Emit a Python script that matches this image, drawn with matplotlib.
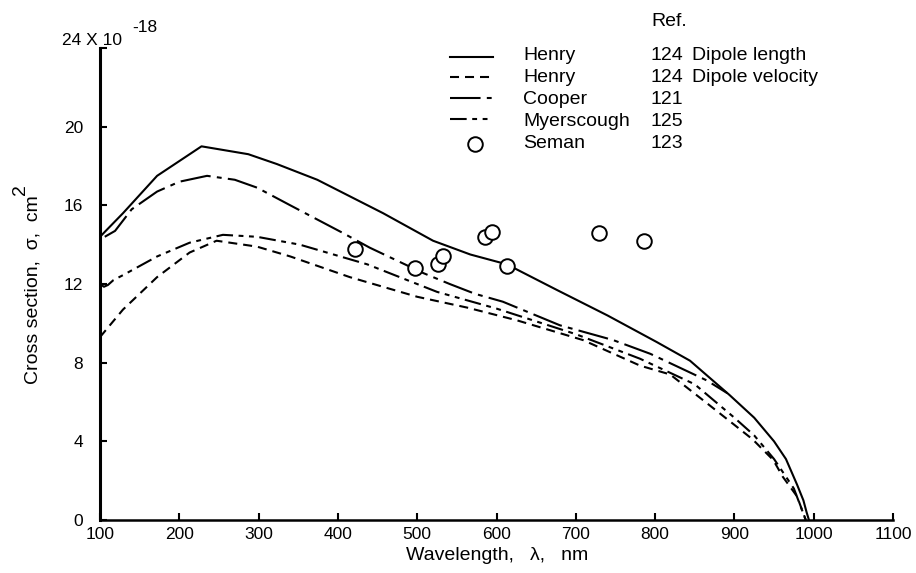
import matplotlib
matplotlib.use("Agg")
import matplotlib.pyplot as plt
from matplotlib.lines import Line2D
from matplotlib import font_manager

# ---- data -------------------------------------------------------------
henry_len_x = [100, 129, 172, 228, 287, 323, 374, 457, 520, 567, 613, 676, 740, 802, 844, 894, 925, 950, 965, 979, 987, 991, 994]
henry_len_y = [14.4, 15.6, 17.5, 19.0, 18.6, 18.1, 17.3, 15.6, 14.2, 13.5, 13.0, 11.7, 10.4, 9.05, 8.1, 6.35, 5.2, 4.0, 3.1, 1.8, 1.0, 0.4, 0.0]

henry_vel_x = [100, 129, 172, 213, 247, 298, 340, 415, 500, 563, 626, 709, 781, 819, 865, 898, 923, 949, 961, 979, 990]
henry_vel_y = [9.3, 10.7, 12.35, 13.6, 14.2, 13.9, 13.4, 12.35, 11.35, 10.8, 10.15, 9.15, 7.85, 7.4, 5.95, 4.9, 4.1, 3.05, 2.2, 1.2, 0.0]

cooper_x = [106, 119, 140, 172, 200, 235, 270, 298, 340, 406, 440, 474, 508, 541, 573, 608, 680, 747, 794, 844, 865, 891]
cooper_y = [14.4, 14.7, 15.8, 16.7, 17.2, 17.5, 17.3, 16.9, 16.0, 14.6, 13.85, 13.2, 12.55, 12.0, 11.5, 11.1, 9.9, 9.15, 8.45, 7.5, 7.1, 6.45]

myer_x = [100, 105, 110, 117, 129, 172, 213, 255, 298, 352, 437, 525, 600, 700, 781, 850, 900, 925, 950, 975, 990]
myer_y = [12.0, 11.86, 11.95, 12.2, 12.45, 13.4, 14.1, 14.5, 14.4, 14.0, 13.0, 11.6, 10.75, 9.45, 8.2, 6.9, 5.2, 4.3, 3.1, 1.6, 0.0]

seman_x = [422, 497, 526, 532, 586, 594, 613, 729, 786]
seman_y = [13.8, 12.8, 13.0, 13.4, 14.4, 14.65, 12.9, 14.6, 14.2]

x_ticks = [100, 200, 300, 400, 500, 600, 700, 800, 900, 1000, 1100]
y_ticks = [0, 4, 8, 12, 16, 20, 24]
y_tick_labels = ["0", "4", "8", "12", "16", "20", ""]

legend_names = ["Henry", "Henry", "Cooper", "Myerscough", "Seman"]
legend_refs = ["124", "124", "121", "125", "123"]
legend_notes = ["Dipole length", "Dipole velocity"]

# ---- fonts ------------------------------------------------------------
available = {f.name for f in font_manager.fontManager.ttflist}
main_font = next((f for f in ["Liberation Sans Narrow", "DejaVu Sans Condensed", "Liberation Sans"]
                  if f in available), "DejaVu Sans")
plt.rcParams["font.family"] = [main_font, "DejaVu Sans"]
plt.rcParams["lines.scale_dashes"] = False

W, H = 916, 573
fig = plt.figure(figsize=(W / 100, H / 100), dpi=100)


def fx(px):
    return px / W


def fy(py):
    return 1 - py / H


ax = fig.add_axes([fx(100), fy(520), (893 - 100) / W, (520 - 48) / H])

style_hl = dict(color="black", lw=1.5, linestyle="-")
style_hv = dict(color="black", lw=1.5, linestyle=(0, (6.5, 4.3)))
style_co = dict(color="black", lw=1.5, linestyle=(0, (22, 4.5, 3.5, 4.5)))
style_my = dict(color="black", lw=1.5, linestyle=(0, (12, 4, 3.5, 4, 3.5, 4)))
style_se = dict(linestyle="none", marker="o", markersize=10.5, markerfacecolor="white",
                markeredgecolor="black", markeredgewidth=1.4)

ax.plot(henry_len_x, henry_len_y, **style_hl)
ax.plot(henry_vel_x, henry_vel_y, **style_hv)
ax.plot(cooper_x, cooper_y, **style_co)
ax.plot(myer_x, myer_y, **style_my)
ax.plot(seman_x, seman_y, zorder=5, **style_se)

ax.set_xlim(100, 1100)
ax.set_ylim(0, 24)
ax.set_xticks(x_ticks)
ax.set_yticks(y_ticks)
ax.set_yticklabels(y_tick_labels)
ax.tick_params(direction="in", length=5, width=1.5, labelsize=12.5)
ax.tick_params(axis="y", pad=12)
ax.tick_params(axis="x", pad=5)
for side in ("top", "right"):
    ax.spines[side].set_visible(False)
ax.spines["left"].set_linewidth(2.2)
ax.spines["bottom"].set_linewidth(1.8)

# axis scale note at the top of the y axis
fig.text(fx(62), fy(45), "24 X 10", fontsize=12.5, ha="left", va="baseline")
fig.text(fx(132), fy(32), "-18", fontsize=12.5, ha="left", va="baseline")

# axis titles
fig.text(fx(33), fy(290), "Cross section,  σ,  cm", rotation=90, fontsize=14,
         ha="center", va="center")
fig.text(fx(20), fy(190), "2", rotation=90, fontsize=14, ha="center", va="center")
fig.text(fx(497), fy(556), "Wavelength,   λ,   nm", fontsize=14, ha="center", va="center")

# key
key_styles = [style_hl, style_hv, style_co, style_my]
key_y = [57, 77, 98, 119]
for st, yy in zip(key_styles, key_y):
    fig.add_artist(Line2D([fx(450), fx(493)], [fy(yy), fy(yy)], transform=fig.transFigure, **st))
fig.add_artist(Line2D([fx(475)], [fy(144)], transform=fig.transFigure, **style_se))

name_y = [55, 78, 99, 121, 143]
for name, ref, yy in zip(legend_names, legend_refs, name_y):
    fig.text(fx(523), fy(yy), name, fontsize=14, ha="left", va="center")
    fig.text(fx(651), fy(yy), ref, fontsize=14, ha="left", va="center")
for note, yy in zip(legend_notes, name_y[:2]):
    fig.text(fx(692), fy(yy), note, fontsize=14, ha="left", va="center")
fig.text(fx(651), fy(22), "Ref.", fontsize=14, ha="left", va="center")

fig.savefig("out.png", dpi=100)
